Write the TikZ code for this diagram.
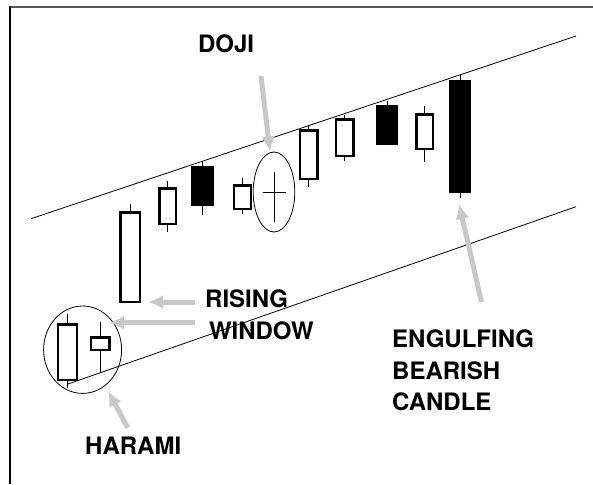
\documentclass[tikz,border=0pt]{standalone}
\usepackage{fontspec}
\newfontfamily\signfont{TeX Gyre Heros}
\usetikzlibrary{shapes.geometric,arrows.meta,calc}
\definecolor{arrowgray}{RGB}{200,200,200}
\definecolor{framegray}{RGB}{85,85,85}

\begin{document}
\begin{tikzpicture}[x=1pt,y=-1pt]
        \tikzstyle{every node}=[inner sep=0pt]
        \tikzstyle{candle}=[draw,rectangle,line width=2.5pt]
        \tikzstyle{wick}=[line width=1pt]
        \tikzstyle{trend}=[line width=0.8pt]
        \tikzstyle{ring}=[draw,ellipse,line width=0.8pt]
        \tikzstyle{pointer}=[arrowgray,line width=5pt,-{Latex[length=15pt,width=14pt]}]
        \tikzstyle{signname}=[font=\signfont\bfseries\fontsize{24}{31.5}\selectfont,align=left]
        \useasboundingbox (0,0) rectangle (593,484);
        \draw[framegray,line width=2pt] (10,6.7) -- (593,6.7);
        \draw[line width=1.5pt] (10,6) -- (10,484);
        \coordinate (top left) at (31,218.7);
        \coordinate (top right) at (576,36);
        \coordinate (bottom left) at (68,384);
        \coordinate (bottom right) at (576,206.7);
        \draw[trend] (top left) -- (top right);
        \draw[trend] (bottom left) -- (bottom right);
        \foreach \n/\x/\y/\w/\h/\col/\up/\dn in {1/67.5/352/19/55.5/white/9/7, 2/100.2/343.5/18.5/12.5/white/14/22,
            3/130/257/19.5/89.5/white/7/0, 4/167.5/206/16.5/35.5/white/6/7, 5/202.5/186/20.5/37.5/black/5/9,
            6/242.3/197/17/23.5/white/6/4, 8/308.8/154.5/17.5/48.5/white/4/7, 9/344.7/137.5/17.5/36.5/white/3/4,
            10/387/125/19.5/37.5/black/4/0, 11/424.5/131.5/16.5/34.5/white/7/12, 12/460/136.5/19.5/110.5/black/5/5}
        {
            \node[candle,fill=\col,minimum width=\w pt,minimum height=\h pt] (c\n) at (\x,\y) {};
            \draw[wick] (c\n.north) -- ++(0,-\up);
            \draw[wick] (c\n.south) -- ++(0,\dn);
        }
        \node[ring,minimum width=41.6pt,minimum height=80pt] (doji) at (274,192) {};
        \draw[wick] ([xshift=-11.5pt]doji.center) -- ([xshift=11.5pt]doji.center);
        \draw[wick] ([yshift=20pt]doji.center) -- ([yshift=-30pt]doji.center);
        \node[ring,minimum width=78pt,minimum height=87.4pt] (harami) at (82.6,349.7) {};
        \node[signname,anchor=base west] (doji text) at (197.8,52.7) {DOJI};
        \node[signname,anchor=base west] (rise text) at (205,307) {RISING};
        \node[signname,anchor=base west] (window text) at (208.8,339.3) {WINDOW};
        \node[signname,anchor=north west] (engulf text) at (392,330) {ENGULFING\\BEARISH\\CANDLE};
        \node[signname,anchor=base west] (harami text) at (85,454) {HARAMI};
        \coordinate (doji tail) at (261,76);
        \coordinate (rise tail) at (194.8,302);
        \coordinate (window tail) at (194.8,322.7);
        \coordinate (harami tail) at (127.8,427.7);
        \coordinate (engulf tail) at (481.5,302);
        \draw[pointer] (doji tail) -- ([xshift=-4pt]doji.north);
        \draw[pointer] (rise tail) -- ($(rise tail -| c3.east)+(7,0)$);
        \draw[pointer] (window tail) -- ($(window tail -| harami.east)+(-13,0)$);
        \draw[pointer,shorten >=6pt] (harami tail) -- (harami.-58);
        \draw[pointer] (engulf tail) -- ($(c12.south)+(-1,11)$);
    \end{tikzpicture}
\end{document}
